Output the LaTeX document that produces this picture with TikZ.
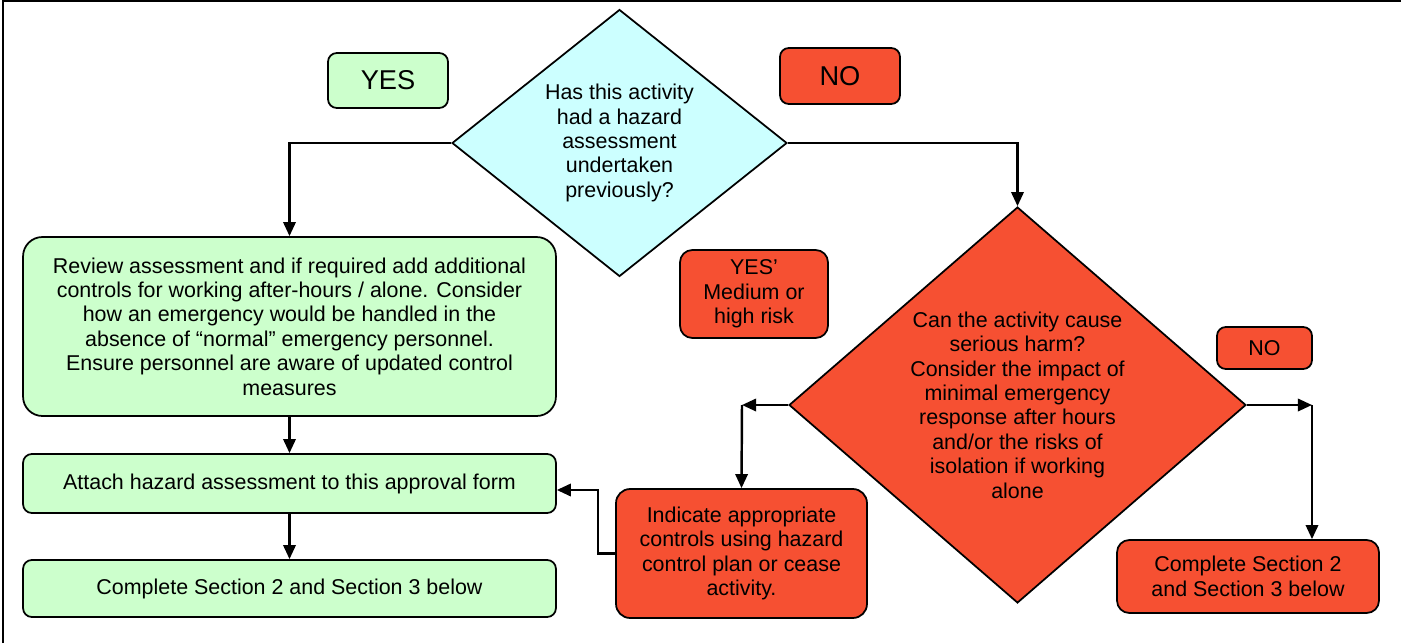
\documentclass[tikz,border=0pt]{standalone}
\usepackage{fontspec}
\setmainfont{Liberation Sans}
\usepackage{tikz}
\usetikzlibrary{shapes.geometric,arrows.meta}
\definecolor{boxgreen}{RGB}{204,255,204}
\definecolor{diacyan}{RGB}{204,255,255}
\definecolor{boxred}{RGB}{246,80,50}

\begin{document}
\begin{tikzpicture}[x=0.02cm,y=-0.02cm,
    every node/.style={font=\fontsize{12.2}{13.9}\selectfont, align=center, inner sep=0pt},
    box/.style={draw, line width=1pt, rounded corners=5pt},
    bigtxt/.style={font=\fontsize{15.5}{19}\selectfont},
    choice/.style={diamond, draw, line width=1pt},
    arr/.style={-{Triangle[length=8pt,width=7pt]}, line width=1.4pt}]
    \useasboundingbox (0,0) rectangle (1401,643);
    \draw[line width=1.3pt] (3,643) -- (3,1) -- (1401,1);

    \node[box, fill=boxgreen, bigtxt, minimum width=2.4cm, minimum height=1.1cm] (yes) at (388,80.5) {YES};
    \node[choice, fill=diacyan, minimum width=6.7cm, minimum height=5.34cm, aspect=1.25] (q1) at (619.5,143)
        {Has this activity\\had a hazard\\assessment\\undertaken\\previously?};
    \node[box, fill=boxred, bigtxt, minimum width=2.4cm, minimum height=1.12cm] (no) at (840,76) {NO};

    \node[box, fill=boxgreen, rounded corners=11pt, minimum width=10.66cm, minimum height=3.58cm] (review) at (289.5,326.5)
        {Review assessment and if required add additional\\controls for working after-hours / alone. Consider\\how an emergency would be handled in the\\absence of “normal” emergency personnel.\\Ensure personnel are aware of updated control\\measures};
    \node[box, fill=boxgreen, minimum width=10.66cm, minimum height=1.18cm] (attach) at (289.5,483.5)
        {Attach hazard assessment to this approval form};
    \node[box, fill=boxgreen, minimum width=10.66cm, minimum height=1.14cm] (section) at (289.5,588.5)
        {Complete Section 2 and Section 3 below};

    \node[box, fill=boxred, rounded corners=7pt, minimum width=2.96cm, minimum height=1.76cm] (yesrisk) at (754,294)
        {YES’\\Medium or\\high risk};
    \node[choice, fill=boxred, minimum width=9.14cm, minimum height=7.92cm, aspect=1.15] (q2) at (1017.5,405)
        {Can the activity cause\\serious harm?\\Consider the impact of\\minimal emergency\\response after hours\\and/or the risks of\\isolation if working\\alone};
    \node[box, fill=boxred, rounded corners=8pt, minimum width=5.02cm, minimum height=2.58cm] (indicate) at (741.5,553.5)
        {Indicate appropriate\\controls using hazard\\control plan or cease\\activity.};
    \node[box, fill=boxred, minimum width=1.9cm, minimum height=0.84cm] (no2) at (1264.5,348) {NO};
    \node[box, fill=boxred, rounded corners=7pt, minimum width=5.24cm, minimum height=1.46cm] (section2) at (1248,576.5)
        {Complete Section 2\\and Section 3 below};

    \coordinate (leftturn) at (742,405);
    \coordinate (rightturn) at (1312,405);
    \coordinate (backup) at (598,490);

    \draw[arr] (q1.west) -| (review.north);
    \draw[arr] (q1.east) -| (q2.north);
    \draw[arr] (review.south) -- (attach.north);
    \draw[arr] (attach.south) -- (section.north);
    \draw[arr] (q2.west) -- (leftturn);
    \draw[arr] (leftturn) -- (indicate.north);
    \draw[arr] (indicate.west) -| (backup) -- (attach.east |- backup);
    \draw[arr] (q2.east) -- (rightturn);
    \draw[arr] (rightturn) -- (rightturn |- section2.north);
\end{tikzpicture}
\end{document}
